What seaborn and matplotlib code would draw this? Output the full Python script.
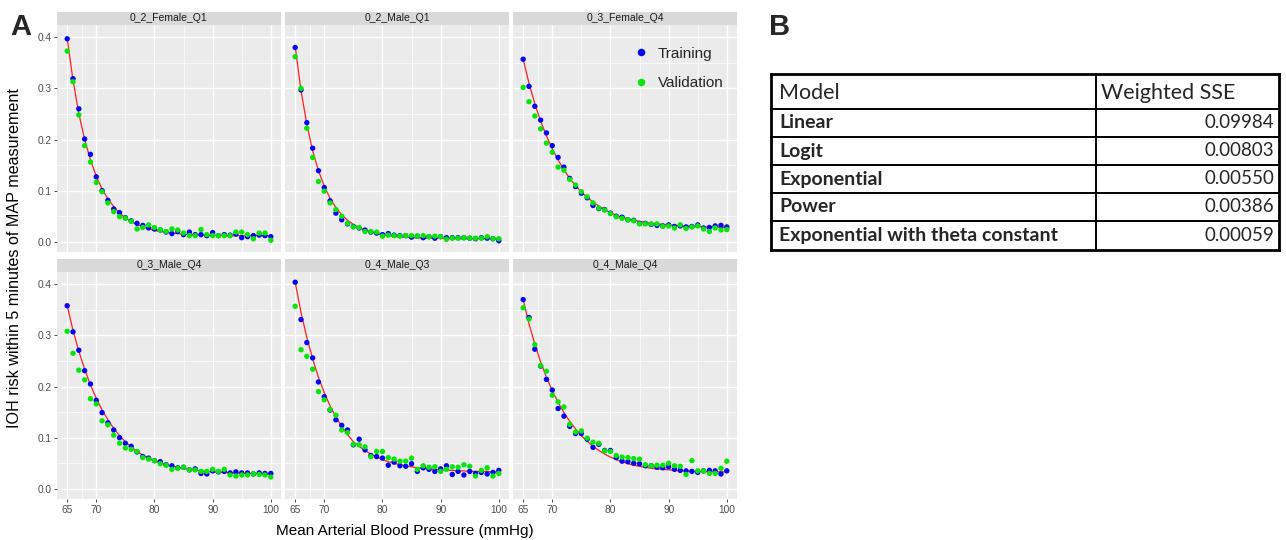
import numpy as np
import pandas as pd
import seaborn as sns
import matplotlib.pyplot as plt
from matplotlib.patches import Rectangle
from matplotlib.ticker import FixedLocator

# ---- data ----
map_mmhg = list(range(65, 101))

panel_names = ['0_2_Female_Q1', '0_2_Male_Q1', '0_3_Female_Q4',
               '0_3_Male_Q4', '0_4_Male_Q3', '0_4_Male_Q4']

train_f2_q1 = [0.397, 0.319, 0.260, 0.201, 0.171, 0.127, 0.100, 0.081, 0.064, 0.057,
               0.047, 0.041, 0.036, 0.032, 0.027, 0.025, 0.023, 0.019, 0.016, 0.020,
               0.014, 0.019, 0.014, 0.014, 0.012, 0.018, 0.012, 0.014, 0.013, 0.015,
               0.008, 0.010, 0.012, 0.013, 0.012, 0.010]
valid_f2_q1 = [0.373, 0.313, 0.248, 0.188, 0.156, 0.116, 0.098, 0.076, 0.059, 0.049,
               0.046, 0.040, 0.025, 0.028, 0.033, 0.028, 0.023, 0.020, 0.025, 0.023,
               0.017, 0.012, 0.012, 0.024, 0.014, 0.012, 0.012, 0.012, 0.012, 0.019,
               0.019, 0.014, 0.006, 0.017, 0.017, 0.003]
fit_f2_q1 = [0.398, 0.316, 0.251, 0.200, 0.160, 0.128, 0.103, 0.084, 0.069, 0.056,
             0.047, 0.039, 0.034, 0.029, 0.026, 0.022, 0.020, 0.019, 0.017, 0.016,
             0.015, 0.014, 0.014, 0.013, 0.013, 0.013, 0.013, 0.012, 0.012, 0.012,
             0.012, 0.012, 0.012, 0.012, 0.012, 0.012]

train_m2_q1 = [0.380, 0.297, 0.233, 0.183, 0.139, 0.106, 0.080, 0.056, 0.043, 0.035,
               0.030, 0.027, 0.023, 0.019, 0.017, 0.014, 0.016, 0.013, 0.012, 0.012,
               0.009, 0.011, 0.008, 0.010, 0.007, 0.010, 0.008, 0.008, 0.008, 0.008,
               0.007, 0.006, 0.008, 0.007, 0.006, 0.002]
valid_m2_q1 = [0.362, 0.300, 0.222, 0.165, 0.118, 0.099, 0.076, 0.063, 0.050, 0.036,
               0.029, 0.028, 0.020, 0.020, 0.019, 0.011, 0.013, 0.012, 0.011, 0.012,
               0.012, 0.011, 0.012, 0.010, 0.011, 0.010, 0.005, 0.007, 0.007, 0.008,
               0.007, 0.007, 0.007, 0.010, 0.006, 0.006]
fit_m2_q1 = [0.382, 0.296, 0.230, 0.178, 0.139, 0.109, 0.085, 0.067, 0.053, 0.042,
             0.034, 0.027, 0.023, 0.019, 0.016, 0.014, 0.012, 0.011, 0.009, 0.009,
             0.008, 0.008, 0.007, 0.007, 0.007, 0.007, 0.006, 0.006, 0.006, 0.006,
             0.006, 0.006, 0.006, 0.006, 0.006, 0.006]

train_f3_q4 = [0.357, 0.304, 0.265, 0.238, 0.213, 0.188, 0.165, 0.146, 0.124, 0.108,
               0.095, 0.086, 0.071, 0.065, 0.063, 0.056, 0.050, 0.048, 0.043, 0.042,
               0.036, 0.036, 0.034, 0.032, 0.031, 0.033, 0.030, 0.031, 0.029, 0.030,
               0.033, 0.027, 0.028, 0.031, 0.032, 0.029]
valid_f3_q4 = [0.302, 0.274, 0.246, 0.221, 0.193, 0.175, 0.146, 0.140, 0.122, 0.111,
               0.098, 0.088, 0.076, 0.066, 0.062, 0.055, 0.049, 0.046, 0.043, 0.041,
               0.035, 0.035, 0.035, 0.035, 0.030, 0.031, 0.027, 0.033, 0.026, 0.029,
               0.031, 0.025, 0.020, 0.027, 0.023, 0.024]
fit_f3_q4 = [0.357, 0.310, 0.270, 0.236, 0.207, 0.182, 0.160, 0.141, 0.124, 0.110,
             0.097, 0.087, 0.078, 0.070, 0.063, 0.057, 0.052, 0.048, 0.045, 0.042,
             0.040, 0.038, 0.036, 0.035, 0.034, 0.033, 0.032, 0.031, 0.031, 0.030,
             0.030, 0.029, 0.029, 0.029, 0.028, 0.028]

train_m3_q4 = [0.358, 0.307, 0.271, 0.231, 0.205, 0.173, 0.149, 0.129, 0.115, 0.100,
               0.089, 0.083, 0.072, 0.063, 0.060, 0.055, 0.053, 0.047, 0.045, 0.041,
               0.042, 0.037, 0.039, 0.030, 0.029, 0.035, 0.033, 0.034, 0.031, 0.033,
               0.031, 0.031, 0.029, 0.031, 0.030, 0.030]
valid_m3_q4 = [0.308, 0.265, 0.232, 0.213, 0.176, 0.166, 0.133, 0.125, 0.105, 0.089,
               0.080, 0.077, 0.073, 0.061, 0.058, 0.055, 0.049, 0.046, 0.038, 0.040,
               0.042, 0.037, 0.037, 0.034, 0.034, 0.038, 0.034, 0.038, 0.027, 0.025,
               0.027, 0.027, 0.029, 0.028, 0.027, 0.023]
fit_m3_q4 = [0.358, 0.310, 0.269, 0.234, 0.203, 0.177, 0.154, 0.135, 0.118, 0.104,
             0.092, 0.082, 0.073, 0.066, 0.060, 0.055, 0.051, 0.047, 0.044, 0.042,
             0.040, 0.038, 0.036, 0.035, 0.034, 0.033, 0.032, 0.032, 0.031, 0.031,
             0.030, 0.030, 0.030, 0.029, 0.029, 0.029]

train_m4_q3 = [0.404, 0.331, 0.286, 0.256, 0.209, 0.180, 0.154, 0.135, 0.124, 0.115,
               0.086, 0.097, 0.076, 0.065, 0.063, 0.060, 0.046, 0.052, 0.045, 0.044,
               0.049, 0.034, 0.041, 0.038, 0.034, 0.039, 0.045, 0.028, 0.034, 0.027,
               0.034, 0.030, 0.032, 0.029, 0.032, 0.036]
valid_m4_q3 = [0.357, 0.272, 0.259, 0.234, 0.190, 0.174, 0.155, 0.144, 0.115, 0.110,
               0.087, 0.086, 0.082, 0.063, 0.073, 0.073, 0.061, 0.058, 0.054, 0.054,
               0.060, 0.038, 0.045, 0.042, 0.043, 0.034, 0.038, 0.043, 0.042, 0.047,
               0.044, 0.025, 0.036, 0.041, 0.025, 0.030]
fit_m4_q3 = [0.404, 0.345, 0.296, 0.254, 0.218, 0.188, 0.162, 0.140, 0.122, 0.106,
             0.092, 0.083, 0.075, 0.068, 0.062, 0.057, 0.053, 0.050, 0.047, 0.045,
             0.043, 0.041, 0.040, 0.039, 0.038, 0.037, 0.036, 0.036, 0.035, 0.035,
             0.034, 0.034, 0.034, 0.034, 0.033, 0.033]

train_m4_q4 = [0.370, 0.335, 0.273, 0.240, 0.214, 0.193, 0.157, 0.142, 0.122, 0.108,
               0.108, 0.097, 0.081, 0.087, 0.075, 0.075, 0.061, 0.054, 0.053, 0.050,
               0.049, 0.045, 0.045, 0.042, 0.041, 0.043, 0.038, 0.036, 0.035, 0.034,
               0.032, 0.035, 0.036, 0.035, 0.029, 0.035]
valid_m4_q4 = [0.354, 0.332, 0.282, 0.241, 0.230, 0.183, 0.170, 0.160, 0.126, 0.111,
               0.113, 0.099, 0.091, 0.089, 0.074, 0.073, 0.065, 0.062, 0.061, 0.059,
               0.058, 0.047, 0.045, 0.046, 0.046, 0.050, 0.045, 0.044, 0.028, 0.055,
               0.035, 0.035, 0.030, 0.030, 0.040, 0.054]
fit_m4_q4 = [0.370, 0.323, 0.283, 0.248, 0.218, 0.192, 0.169, 0.149, 0.132, 0.117,
             0.104, 0.093, 0.083, 0.075, 0.068, 0.062, 0.057, 0.053, 0.049, 0.046,
             0.044, 0.042, 0.040, 0.039, 0.038, 0.037, 0.036, 0.035, 0.035, 0.034,
             0.034, 0.034, 0.033, 0.033, 0.033, 0.033]

train_all = [train_f2_q1, train_m2_q1, train_f3_q4, train_m3_q4, train_m4_q3, train_m4_q4]
valid_all = [valid_f2_q1, valid_m2_q1, valid_f3_q4, valid_m3_q4, valid_m4_q3, valid_m4_q4]
fit_all = [fit_f2_q1, fit_m2_q1, fit_f3_q4, fit_m3_q4, fit_m4_q3, fit_m4_q4]

# panel B table
table_models = ['Linear', 'Logit', 'Exponential', 'Power', 'Exponential with theta constant']
table_sse = [0.09984, 0.00803, 0.00550, 0.00386, 0.00059]

# long form frames
rows = []
fit_rows = []
for name, tr, va, ft in zip(panel_names, train_all, valid_all, fit_all):
    for x, y in zip(map_mmhg, tr):
        rows.append((name, x, y, 'Training'))
    for x, y in zip(map_mmhg, va):
        rows.append((name, x, y, 'Validation'))
    for x, y in zip(map_mmhg, ft):
        fit_rows.append((name, x, y))
pts = pd.DataFrame(rows, columns=['panel', 'map', 'risk', 'set'])
fits = pd.DataFrame(fit_rows, columns=['panel', 'map', 'risk'])

set_colors = {'Training': '#0000FF', 'Validation': '#00E600'}

sns.set_theme(style='darkgrid', rc={'axes.facecolor': '#EBEBEB', 'grid.color': 'white'})
plt.rcParams['font.family'] = ['Liberation Sans', 'DejaVu Sans']

W, H = 1286, 540
fig = plt.figure(figsize=(W / 100, H / 100), dpi=100)
fig.patch.set_facecolor('white')

col_left = [57, 285, 513]
row_top = [25, 272]
panel_w = 224
panel_h = 227
strip_h = 13.5

for i, name in enumerate(panel_names):
    r, c = divmod(i, 3)
    ax = fig.add_axes([col_left[c] / W, 1 - (row_top[r] + panel_h) / H, panel_w / W, panel_h / H])
    sns.lineplot(data=fits[fits.panel == name], x='map', y='risk', color='#FF2020',
                 lw=0.9, ax=ax, zorder=2)
    sns.scatterplot(data=pts[pts.panel == name], x='map', y='risk', hue='set',
                    palette=set_colors, s=15, linewidth=0, ax=ax, zorder=3,
                    legend=(i == 2))
    ax.set_xlim(63.25, 101.75)
    ax.set_ylim(-0.02, 0.424)
    ax.set_xticks([65, 70, 80, 90, 100])
    ax.xaxis.set_minor_locator(FixedLocator([67.5, 75, 85, 95]))
    ax.set_yticks([0.0, 0.1, 0.2, 0.3, 0.4])
    ax.yaxis.set_minor_locator(FixedLocator([0.05, 0.15, 0.25, 0.35]))
    ax.grid(which='major', color='white', lw=1.0)
    ax.grid(which='minor', color='white', lw=0.5)
    for s in ax.spines.values():
        s.set_visible(False)
    ax.set_xlabel('')
    ax.set_ylabel('')
    ax.tick_params(which='minor', length=0)
    ax.tick_params(which='major', length=2.5, width=0.6, color='#333333',
                   labelsize=7.3, labelcolor='#4D4D4D', pad=1.5)
    if r == 0:
        ax.tick_params(axis='x', bottom=False, labelbottom=False)
    else:
        ax.tick_params(axis='x', bottom=True, labelbottom=True)
    if c == 0:
        ax.set_yticklabels(['0.0', '0.1', '0.2', '0.3', '0.4'])
        ax.tick_params(axis='y', left=True, labelleft=True)
    else:
        ax.tick_params(axis='y', left=False, labelleft=False)

    # facet strip
    sh = strip_h / panel_h
    ax.add_patch(Rectangle((0, 1), 1, sh, transform=ax.transAxes, clip_on=False,
                           facecolor='#D9D9D9', edgecolor='none'))
    ax.text(0.5, 1 + sh / 2, name, transform=ax.transAxes, ha='center', va='center',
            fontsize=7.5, color='#1A1A1A')

    if i == 2:
        sns.move_legend(ax, 'upper right', bbox_to_anchor=(1.0, 0.965), title=None,
                        frameon=False, fontsize=11, markerscale=1.4, labelspacing=1.0,
                        handletextpad=0.5, handlelength=1.2)

fig.text(405 / W, 1 - 531 / H, 'Mean Arterial Blood Pressure (mmHg)', ha='center',
         va='center', fontsize=11, color='black')
fig.text(15 / W, 1 - 258 / H, 'IOH risk within 5 minutes of MAP measurement',
         rotation=90, ha='center', va='center', fontsize=11.6, color='black')
fig.text(10 / W, 1 - 35 / H, 'A', fontsize=21, fontweight='bold', va='baseline')
fig.text(769 / W, 1 - 35 / H, 'B', fontsize=21, fontweight='bold', va='baseline')

# panel B: table drawn by hand
tax = fig.add_axes([760 / W, 0, 526 / W, 1])
tax.set_xlim(760, 1286)
tax.set_ylim(540, 0)
tax.axis('off')
edges_y = [74, 109, 137, 165, 193, 221, 250]
x_left, x_mid, x_right = 771, 1096, 1279
for k, y in enumerate(edges_y):
    lw = 2.0 if k in (0, len(edges_y) - 1) else 1.4
    tax.plot([x_left, x_right], [y, y], color='black', lw=lw, solid_capstyle='projecting')
for k, x in enumerate([x_left, x_mid, x_right]):
    lw = 1.4 if k == 1 else 2.0
    tax.plot([x, x], [edges_y[0], edges_y[-1]], color='black', lw=lw, solid_capstyle='projecting')

tfont = ['Lato', 'DejaVu Sans']
tax.text(779, 93, 'Model', fontsize=15.5, va='center', ha='left', family=tfont)
tax.text(1101, 93, 'Weighted SSE', fontsize=15.5, va='center', ha='left', family=tfont)
for k, (m, v) in enumerate(zip(table_models, table_sse)):
    yc = (edges_y[k + 1] + edges_y[k + 2]) / 2
    tax.text(779, yc, m, fontsize=14, fontweight='bold', va='center', ha='left', family=tfont)
    tax.text(1274, yc, f'{v:.5f}', fontsize=13.5, va='center', ha='right', family=tfont)

fig.savefig('out.png', dpi=100, facecolor='white')
